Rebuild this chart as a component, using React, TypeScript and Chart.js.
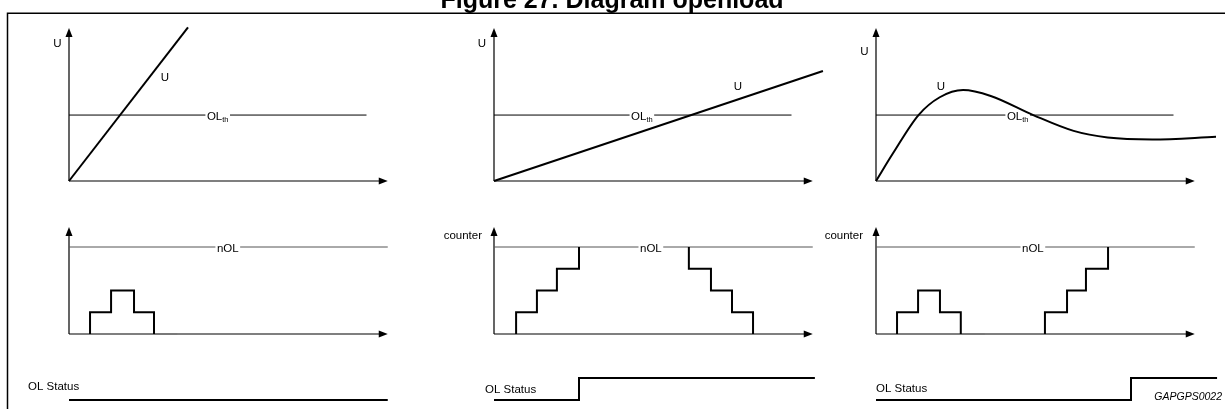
import React, { useEffect, useRef } from "react";
import { Chart, registerables } from "chart.js";

Chart.register(...registerables);

const W = 1225;
const H = 409;

// ---------------- data ----------------
const xAxisMax = 15; // time axis end (arrow tip)
const thresholdValue = 1; // OL_th
const thresholdEnd = 14;
const uAxisMax = 2.32;

const u1Time = [0, 5.6];
const u1Value = [0, 2.33];
const u2Time = [0, 15.48];
const u2Value = [0, 1.667];
const u3Time = [0, 0.8, 2, 3, 4.1, 5.4, 7.4, 9.3, 10.9, 13.0, 16.0];
const u3Value = [0, 0.42, 1, 1.27, 1.38, 1.29, 1.0, 0.76, 0.66, 0.63, 0.67];

const nOLValue = 4;
const counterAxisMax = 4.92;

const c1Times = [0.99, 1.98, 3.06, 4.0];
const c1Counts = [1, 2, 1, 0];
const c1TailEnd = 5.1;

const c2RiseTimes = [1.04, 2.02, 2.96, 4.0];
const c2RiseCounts = [1, 2, 3, 4];
const c2FallTimes = [9.17, 10.21, 11.2, 12.19];
const c2FallCounts = [3, 2, 1, 0];

const c3Times = [0.99, 1.98, 3.01, 3.99];
const c3Counts = [1, 2, 1, 0];
const c3TailEnd = 5.12;
const c3RiseTimes = [7.95, 8.99, 9.88, 10.92];
const c3RiseCounts = [1, 2, 3, 4];

const s1Times = [0, 15];
const s1Values = [0, 0];
const s2Times = [0, 4.0, 15.1];
const s2Values = [0, 1, 1];
const s3Times = [0, 12.0, 16.05];
const s3Values = [0, 1, 1];

// ---------------- helpers ----------------
const pts = (xs: number[], ys: number[]) => xs.map((x, i) => ({ x, y: ys[i] }));
const steps = (start: number, times: number[], counts: number[]) => [
  { x: times[0], y: start },
  ...pts(times, counts),
];

const FONT = '"Liberation Sans", Arial, Helvetica, sans-serif';

// layout (pixels)
const COLS = [69, 494, 876];
const UNIT = 21.25;
const ROW_U = { top: 28, bottom: 181 };
const ROW_C = { top: 227, bottom: 334 };
const ROW_S = { top: 378, bottom: 400 };

const signal = (data: any[], extra: any = {}) => ({
  data,
  borderColor: "#000",
  borderWidth: 2,
  pointRadius: 0,
  fill: false,
  clip: false,
  ...extra,
});

const refLine = (data: any[], color: string, labelInfo: any) => ({
  data,
  borderColor: color,
  borderWidth: 1,
  pointRadius: 0,
  fill: false,
  clip: false,
  refLabel: labelInfo,
});

const diagramPlugin = {
  id: "diagram",
  beforeDraw(chart: any, _args: any, opts: any) {
    if (!opts || !opts.frame) return;
    const ctx = chart.ctx;
    ctx.save();
    ctx.fillStyle = "#000";
    ctx.font = `bold 25px ${FONT}`;
    ctx.textAlign = "center";
    ctx.textBaseline = "alphabetic";
    ctx.fillText("Figure 27. Diagram openload", 612, 8);
    ctx.strokeStyle = "#000";
    ctx.lineWidth = 1.5;
    ctx.beginPath();
    ctx.moveTo(7.5, H);
    ctx.lineTo(7.5, 13.3);
    ctx.lineTo(W, 13.3);
    ctx.stroke();
    ctx.restore();
  },
  beforeDatasetsDraw(chart: any, _args: any, opts: any) {
    if (!opts || !opts.axes) return;
    const ctx = chart.ctx;
    const xs = chart.scales.x;
    const ys = chart.scales.y;
    const x0 = xs.getPixelForValue(0);
    const x1 = xs.getPixelForValue(xs.max);
    const y0 = ys.getPixelForValue(0);
    const y1 = ys.getPixelForValue(ys.max);
    ctx.save();
    ctx.strokeStyle = "#000";
    ctx.fillStyle = "#000";
    ctx.lineWidth = 1.2;
    ctx.beginPath();
    ctx.moveTo(x0, y0);
    ctx.lineTo(x0, y1 + 7);
    ctx.moveTo(x0, y0);
    ctx.lineTo(x1 - 7, y0);
    ctx.stroke();
    ctx.beginPath();
    ctx.moveTo(x0, y1);
    ctx.lineTo(x0 - 3.5, y1 + 9);
    ctx.lineTo(x0 + 3.5, y1 + 9);
    ctx.closePath();
    ctx.fill();
    ctx.beginPath();
    ctx.moveTo(x1, y0);
    ctx.lineTo(x1 - 9, y0 - 3.5);
    ctx.lineTo(x1 - 9, y0 + 3.5);
    ctx.closePath();
    ctx.fill();
    ctx.restore();
  },
  afterDatasetDraw(chart: any, args: any) {
    const ds = chart.data.datasets[args.index];
    const info = ds && ds.refLabel;
    if (!info) return;
    const ctx = chart.ctx;
    const px = chart.scales.x.getPixelForValue(info.x);
    const py = chart.scales.y.getPixelForValue(ds.data[0].y);
    ctx.save();
    ctx.font = `11.5px ${FONT}`;
    const w1 = ctx.measureText(info.main).width;
    let w2 = 0;
    if (info.sub) {
      ctx.font = `7.5px ${FONT}`;
      w2 = ctx.measureText(info.sub).width;
    }
    ctx.fillStyle = "#fff";
    ctx.fillRect(px - 1.5, py - 3, w1 + w2 + 3, 6);
    ctx.fillStyle = "#000";
    ctx.textBaseline = "alphabetic";
    ctx.textAlign = "left";
    ctx.font = `11.5px ${FONT}`;
    ctx.fillText(info.main, px, py + 4.5);
    if (info.sub) {
      ctx.font = `7.5px ${FONT}`;
      ctx.fillText(info.sub, px + w1, py + 6.5);
    }
    ctx.restore();
  },
  afterDraw(chart: any, _args: any, opts: any) {
    if (!opts || !opts.labels) return;
    const ctx = chart.ctx;
    ctx.save();
    ctx.fillStyle = "#000";
    ctx.textBaseline = "alphabetic";
    for (const l of opts.labels) {
      ctx.font = l.font || `11.5px ${FONT}`;
      ctx.textAlign = l.align || "left";
      ctx.fillText(l.text, l.x, l.y);
    }
    ctx.restore();
  },
};

function makeConfig(p: {
  col: number;
  row: { top: number; bottom: number };
  yMax: number;
  datasets: any[];
  axes: boolean;
  labels?: any[];
  frame?: boolean;
}) {
  const left = COLS[p.col];
  const right = left + xAxisMax * UNIT;
  return {
    type: "line" as const,
    data: { datasets: p.datasets },
    plugins: [diagramPlugin],
    options: {
      animation: false,
      responsive: false,
      maintainAspectRatio: false,
      devicePixelRatio: 1,
      events: [],
      layout: {
        autoPadding: false,
        padding: { left, top: p.row.top, right: W - right, bottom: H - p.row.bottom },
      },
      scales: {
        x: { type: "linear", min: 0, max: xAxisMax, display: false },
        y: { type: "linear", min: 0, max: p.yMax, display: false },
      },
      plugins: {
        legend: { display: false },
        tooltip: { enabled: false },
        diagram: { axes: p.axes, labels: p.labels || [], frame: !!p.frame },
      },
    },
  };
}

const olth = (x: number) => ({ main: "OL", sub: "th", x });
const nol = (x: number) => ({ main: "nOL", x });
const thrData = pts([0, thresholdEnd], [thresholdValue, thresholdValue]);
const nolData = pts([0, xAxisMax], [nOLValue, nOLValue]);
const GRAY = "#777";

const configs = [
  // top row: U vs time
  makeConfig({
    col: 0, row: ROW_U, yMax: uAxisMax, axes: true, frame: true,
    datasets: [signal(pts(u1Time, u1Value)), refLine(thrData, "#000", olth(6.49))],
    labels: [
      { text: "U", x: 57.5, y: 47, align: "center" },
      { text: "U", x: 165, y: 81, align: "center" },
    ],
  }),
  makeConfig({
    col: 1, row: ROW_U, yMax: uAxisMax, axes: true,
    datasets: [signal(pts(u2Time, u2Value)), refLine(thrData, "#000", olth(6.45))],
    labels: [
      { text: "U", x: 482, y: 47, align: "center" },
      { text: "U", x: 738, y: 90, align: "center" },
    ],
  }),
  makeConfig({
    col: 2, row: ROW_U, yMax: uAxisMax, axes: true,
    datasets: [
      signal(pts(u3Time, u3Value), { cubicInterpolationMode: "monotone", tension: 0.4 }),
      refLine(thrData, "#000", olth(6.16)),
    ],
    labels: [
      { text: "U", x: 864.5, y: 55, align: "center" },
      { text: "U", x: 941, y: 90, align: "center" },
    ],
  }),
  // middle row: counters
  makeConfig({
    col: 0, row: ROW_C, yMax: counterAxisMax, axes: true,
    datasets: [
      signal(steps(0, c1Times, c1Counts), { stepped: "before" }),
      signal(pts([c1Times[c1Times.length - 1], c1TailEnd], [0, 0]), { borderColor: GRAY, borderWidth: 1.5 }),
      refLine(nolData, "#555", nol(6.96)),
    ],
  }),
  makeConfig({
    col: 1, row: ROW_C, yMax: counterAxisMax, axes: true,
    datasets: [
      signal(steps(0, c2RiseTimes, c2RiseCounts), { stepped: "before" }),
      signal(steps(nOLValue, c2FallTimes, c2FallCounts), { stepped: "before" }),
      refLine(nolData, "#555", nol(6.87)),
    ],
    labels: [{ text: "counter", x: 482, y: 238.5, align: "right" }],
  }),
  makeConfig({
    col: 2, row: ROW_C, yMax: counterAxisMax, axes: true,
    datasets: [
      signal(steps(0, c3Times, c3Counts), { stepped: "before" }),
      signal(pts([c3Times[c3Times.length - 1], c3TailEnd], [0, 0]), { borderColor: GRAY, borderWidth: 1.5 }),
      signal(steps(0, c3RiseTimes, c3RiseCounts), { stepped: "before" }),
      refLine(nolData, "#555", nol(6.87)),
    ],
    labels: [{ text: "counter", x: 863, y: 238.5, align: "right" }],
  }),
  // bottom row: OL status
  makeConfig({
    col: 0, row: ROW_S, yMax: 1, axes: false,
    datasets: [signal(pts(s1Times, s1Values), { stepped: "before" })],
    labels: [{ text: "OL Status", x: 28, y: 390 }],
  }),
  makeConfig({
    col: 1, row: ROW_S, yMax: 1, axes: false,
    datasets: [signal(pts(s2Times, s2Values), { stepped: "before" })],
    labels: [{ text: "OL Status", x: 485, y: 393 }],
  }),
  makeConfig({
    col: 2, row: ROW_S, yMax: 1, axes: false,
    datasets: [signal(pts(s3Times, s3Values), { stepped: "before" })],
    labels: [
      { text: "OL Status", x: 876, y: 392 },
      { text: "GAPGPS0022", x: 1222, y: 400, align: "right", font: `italic 10.5px ${FONT}` },
    ],
  }),
];

export default function App() {
  const refs = useRef<(HTMLCanvasElement | null)[]>([]);
  useEffect(() => {
    const charts = configs.map((cfg, i) => new Chart(refs.current[i] as HTMLCanvasElement, cfg as any));
    return () => charts.forEach((c) => c.destroy());
  }, []);
  return (
    <div style={{ position: "absolute", left: 0, top: 0, width: W, height: H, background: "#fff", overflow: "hidden" }}>
      {configs.map((_, i) => (
        <canvas
          key={i}
          ref={(el) => { refs.current[i] = el; }}
          width={W}
          height={H}
          style={{ position: "absolute", left: 0, top: 0, width: W, height: H }}
        />
      ))}
    </div>
  );
}
